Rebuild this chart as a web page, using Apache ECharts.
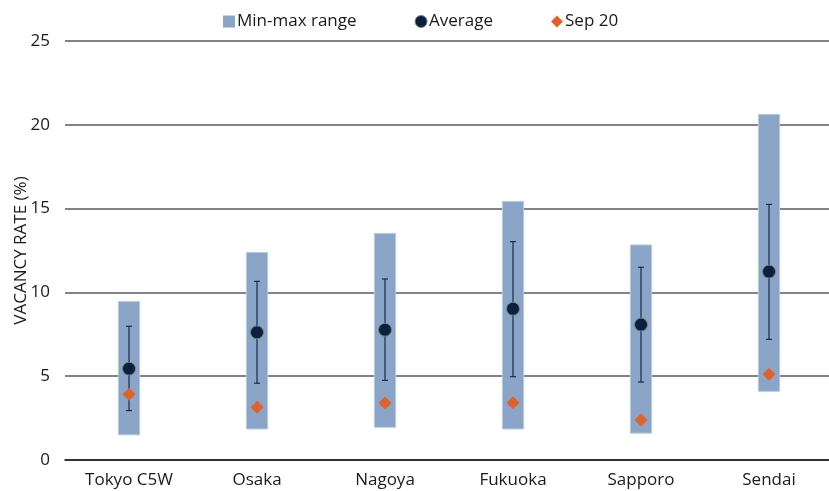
<!DOCTYPE html>
<html>
<head>
<meta charset="utf-8">
<script src="https://cdn.jsdelivr.net/npm/echarts@6/dist/echarts.min.js"></script>
<style>
html,body{margin:0;padding:0;background:#fff;}
#chart{width:829px;height:491px;}
</style>
</head>
<body>
<div id="chart"></div>
<script>
const categories = ['Tokyo C5W', 'Osaka', 'Nagoya', 'Fukuoka', 'Sapporo', 'Sendai'];
const rangeMin = [1.5, 1.85, 1.95, 1.85, 1.6, 4.1];
const rangeMax = [9.45, 12.38, 13.52, 15.43, 12.83, 20.62];
const average = [5.45, 7.62, 7.77, 9.02, 8.08, 11.24];
const whiskerLow = [2.95, 4.58, 4.75, 4.97, 4.65, 7.2];
const whiskerHigh = [7.98, 10.66, 10.8, 13.03, 11.5, 15.25];
const sep20 = [3.93, 3.14, 3.4, 3.42, 2.38, 5.12];
const yTicks = {min: 0, max: 25, interval: 5};

const FONT = '"Open Sans", sans-serif';
const chart = echarts.init(document.getElementById('chart'));

const rangeData = categories.map((c, i) => [i, rangeMin[i], rangeMax[i]]);
const whiskerData = categories.map((c, i) => [i, whiskerLow[i], whiskerHigh[i]]);

chart.setOption({
  animation: false,
  backgroundColor: '#ffffff',
  textStyle: {fontFamily: FONT},
  legend: {
    top: 8,
    left: 218,
    itemGap: 58,
    itemWidth: 12,
    itemHeight: 12,
    textStyle: {fontFamily: FONT, fontSize: 17, color: '#1a1a1a', padding: [0, 0, 0, -3]},
    data: [
      {name: 'Min-max range', icon: 'rect', itemStyle: {color: '#8aa5c8'}},
      {name: 'Average', icon: 'circle', itemStyle: {color: '#0d1f3c', borderColor: '#6b8a80', borderWidth: 1}},
      {name: 'Sep 20', icon: 'diamond', itemStyle: {color: '#e0622a'}}
    ]
  },
  grid: {left: 65, top: 41, width: 768, height: 419, containLabel: false, outerBoundsMode: 'none'},
  xAxis: {
    type: 'category',
    data: categories,
    axisLine: {lineStyle: {color: '#1a1a1a', width: 1.5}},
    axisTick: {show: false},
    axisLabel: {fontFamily: FONT, fontSize: 17, color: '#1a1a1a', margin: 12}
  },
  yAxis: {
    type: 'value',
    min: yTicks.min,
    max: yTicks.max,
    interval: yTicks.interval,
    name: 'VACANCY RATE (%)',
    nameLocation: 'middle',
    nameGap: 35,
    nameMoveOverlap: false,
    nameTextStyle: {fontFamily: FONT, fontSize: 17, color: '#1a1a1a'},
    axisLine: {show: false},
    axisTick: {show: false},
    axisLabel: {fontFamily: FONT, fontSize: 17, color: '#1a1a1a', margin: 15},
    splitLine: {lineStyle: {color: '#5a5a5a', width: 1.5}}
  },
  series: [
    {
      name: 'Min-max range',
      type: 'custom',
      data: rangeData,
      encode: {x: 0, y: [1, 2]},
      z: 2,
      renderItem: function (params, api) {
        const x = api.value(0);
        const lo = api.coord([x, api.value(1)]);
        const hi = api.coord([x, api.value(2)]);
        const w = api.size([1, 0])[0] * 0.166;
        return {
          type: 'rect',
          shape: {x: lo[0] - w / 2, y: hi[1], width: w, height: lo[1] - hi[1]},
          style: {fill: '#8aa5c8', stroke: '#b8c9df', lineWidth: 1}
        };
      }
    },
    {
      name: 'Whisker',
      type: 'custom',
      data: whiskerData,
      encode: {x: 0, y: [1, 2]},
      z: 3,
      silent: true,
      renderItem: function (params, api) {
        const x = api.value(0);
        const lo = api.coord([x, api.value(1)]);
        const hi = api.coord([x, api.value(2)]);
        const c = 3;
        const st = {stroke: '#1b2b4b', lineWidth: 1.2};
        return {
          type: 'group',
          children: [
            {type: 'line', shape: {x1: lo[0], y1: lo[1], x2: hi[0], y2: hi[1]}, style: st},
            {type: 'line', shape: {x1: lo[0] - c, y1: lo[1], x2: lo[0] + c, y2: lo[1]}, style: st},
            {type: 'line', shape: {x1: hi[0] - c, y1: hi[1], x2: hi[0] + c, y2: hi[1]}, style: st}
          ]
        };
      }
    },
    {
      name: 'Average',
      type: 'scatter',
      data: average,
      symbol: 'circle',
      symbolSize: 13,
      z: 4,
      itemStyle: {color: '#0d1f3c', borderColor: '#6b8a80', borderWidth: 1, opacity: 1}
    },
    {
      name: 'Sep 20',
      type: 'scatter',
      data: sep20,
      symbol: 'diamond',
      symbolSize: 13,
      z: 5,
      itemStyle: {color: '#e0622a', opacity: 1}
    }
  ]
});
</script>
</body>
</html>
